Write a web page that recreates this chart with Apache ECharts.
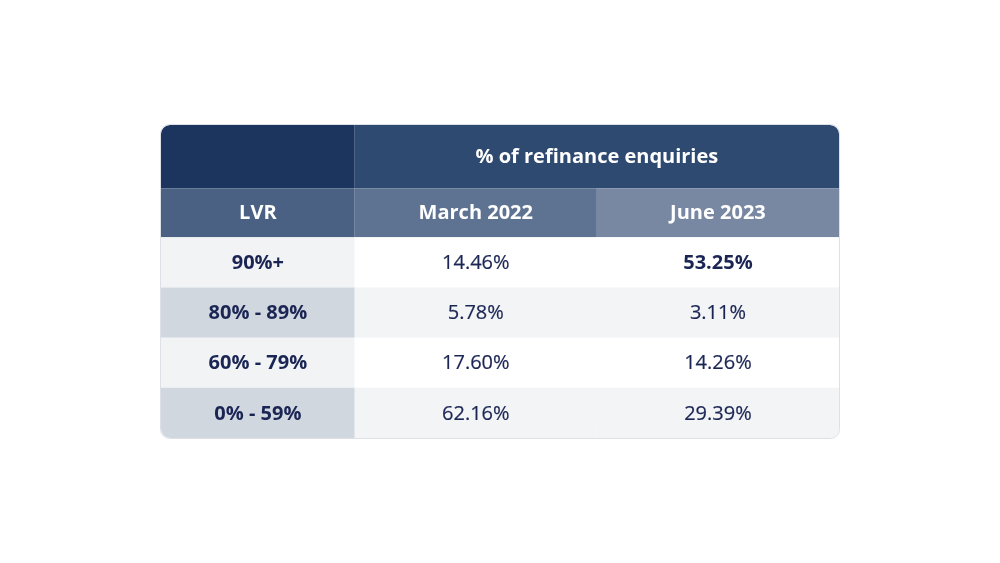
<!DOCTYPE html>
<html>
<head>
<meta charset="utf-8">
<script src="https://cdn.jsdelivr.net/npm/echarts@6/dist/echarts.min.js"></script>
<style>
html,body{margin:0;padding:0;background:#ffffff;}
#chart{width:1000px;height:563px;}
</style>
</head>
<body>
<div id="chart"></div>
<script>
// ---- data ----
const headerTitle = '% of refinance enquiries';
const columns = ['LVR', 'March 2022', 'June 2023'];
const lvrBands = ['90%+', '80% - 89%', '60% - 79%', '0% - 59%'];
const march2022 = [14.46, 5.78, 17.60, 62.16];
const june2023 = [53.25, 3.11, 14.26, 29.39];
const highlighted = [[0, 2]]; // [row, col] shown in bold

// ---- layout (units of the value axes) ----
const colEdges = [0, 0.8, 1.8, 2.8];
const rowEdges = [0, 1.26, 2.24, 3.24, 4.24, 5.24, 6.24];

const TEXT = '#1b2554';
const FONT = '"Open Sans"';

const cells = [];
// header row 1
cells.push({ c0: 0, c1: 1, r: 0, text: '', fill: '#1c355f', color: '#fff', bold: true, size: 20, radius: [9, 0, 0, 0] });
cells.push({ c0: 1, c1: 3, r: 0, text: headerTitle, fill: '#2f4a71', color: '#fff', bold: true, size: 20, radius: [0, 9, 0, 0] });
// header row 2
const headFills = ['#4a6184', '#5e7392', '#7888a3'];
columns.forEach((name, i) => {
  cells.push({ c0: i, c1: i + 1, r: 1, text: name, fill: headFills[i], color: '#fff', bold: true, size: 20, radius: 0 });
});
// body
lvrBands.forEach((band, i) => {
  const even = i % 2 === 1;
  const last = i === lvrBands.length - 1;
  cells.push({ c0: 0, c1: 1, r: i + 2, text: band, fill: even ? '#d0d7df' : '#f1f3f5', color: TEXT, bold: true, size: 20, radius: last ? [0, 0, 0, 9] : 0 });
  [march2022, june2023].forEach((arr, k) => {
    const col = k + 1;
    const bold = highlighted.some(h => h[0] === i && h[1] === col);
    cells.push({ c0: col, c1: col + 1, r: i + 2, text: arr[i].toFixed(2) + '%', fill: even ? '#f2f4f6' : '#ffffff', color: TEXT, bold: bold, size: 20, radius: (last && col === 2) ? [0, 0, 9, 0] : 0 });
  });
});

const chart = echarts.init(document.getElementById('chart'));
chart.setOption({
  animation: false,
  grid: { left: 161, right: 161, top: 125, bottom: 125 },
  xAxis: { type: 'value', min: 0, max: colEdges[3], show: false },
  yAxis: { type: 'value', min: 0, max: rowEdges[6], inverse: true, show: false },
  series: [
    {
      type: 'custom',
      silent: true,
      data: cells.map(c => [c.c0, c.r]),
      renderItem: function (params, api) {
        const c = cells[params.dataIndex];
        const p0 = api.coord([colEdges[c.c0], rowEdges[c.r]]);
        const p1 = api.coord([colEdges[c.c1], rowEdges[c.r + 1]]);
        const ts = {
          x: (p0[0] + p1[0]) / 2,
          y: (p0[1] + p1[1]) / 2 + 1,
          text: c.text,
          fill: c.color,
          font: (c.bold ? '700 ' : '500 ') + c.size + 'px ' + FONT,
          align: 'center',
          verticalAlign: 'middle'
        };
        if (!c.bold) {
          ts.stroke = c.color;
          ts.lineWidth = 0.2;
        }
        return {
          type: 'group',
          children: [
            {
              type: 'rect',
              shape: { x: p0[0], y: p0[1], width: p1[0] - p0[0], height: p1[1] - p0[1], r: c.radius },
              style: { fill: c.fill }
            },
            { type: 'text', style: ts }
          ]
        };
      }
    },
    {
      type: 'custom',
      silent: true,
      data: [[0, 0]],
      renderItem: function (params, api) {
        const p0 = api.coord([colEdges[0], rowEdges[0]]);
        const p1 = api.coord([colEdges[3], rowEdges[6]]);
        return {
          type: 'rect',
          shape: { x: p0[0] - 0.5, y: p0[1] - 0.5, width: p1[0] - p0[0] + 1, height: p1[1] - p0[1] + 1, r: 9 },
          style: { fill: 'none', stroke: '#dde1e7', lineWidth: 1 }
        };
      }
    }
  ]
});
</script>
</body>
</html>
